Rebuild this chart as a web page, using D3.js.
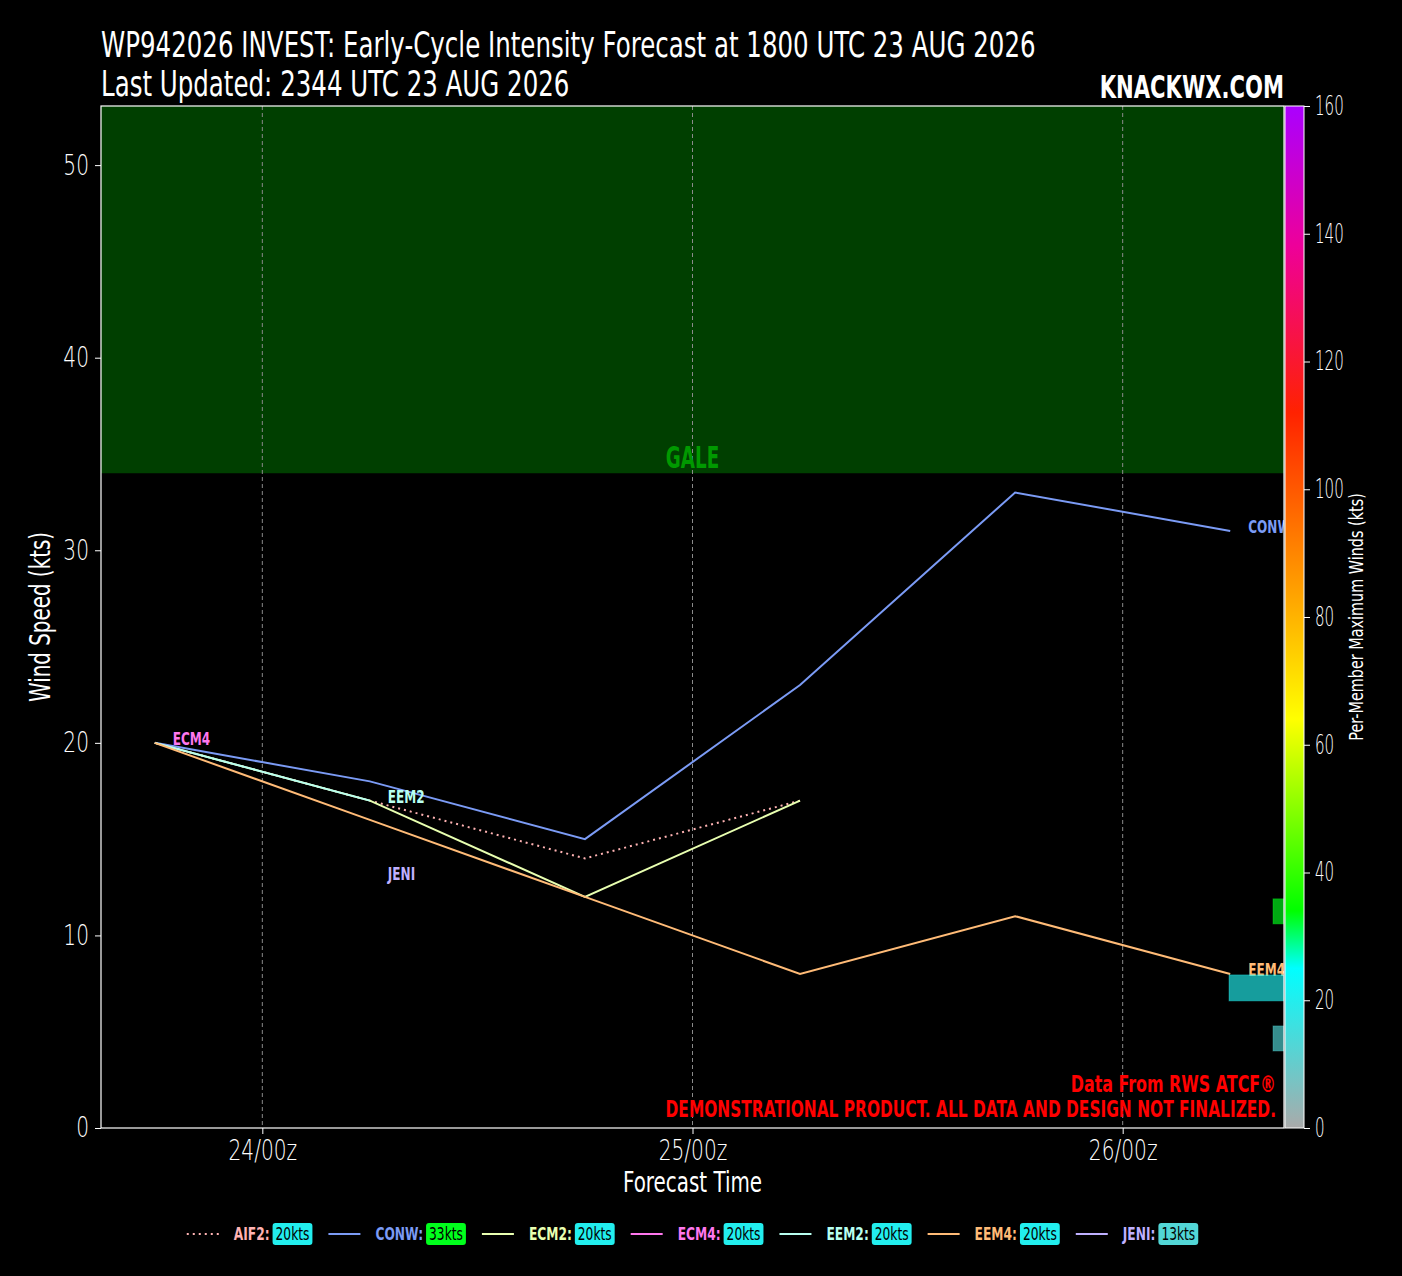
<!DOCTYPE html>
<html>
<head>
<meta charset="utf-8">
<script src="https://cdn.jsdelivr.net/npm/d3@7"></script>
<style>
  body { margin: 0; background: #000; }
  text { font-family: "DejaVu Sans", sans-serif; }
</style>
</head>
<body>
<div id="chart"></div>
<script>
// forecast times (12-hourly) and member intensities (kts)
const times = ["2026-08-23T18:00Z", "2026-08-24T06:00Z", "2026-08-24T18:00Z",
               "2026-08-25T06:00Z", "2026-08-25T18:00Z", "2026-08-26T06:00Z"];
const members = ["AIF2", "CONW", "ECM2", "ECM4", "EEM2", "EEM4", "JENI"];
const memberColors = ["#ffb3b3", "#7b9bf5", "#e8ffb0", "#ff77ee", "#b8fff0", "#ffbb77", "#bfb0ff"];
const AIF2 = [20, 17, 14, 17];
const CONW = [20, 18, 15, 23, 33, 31];
const ECM2 = [20, 17, 12, 17];
const ECM4 = [20];
const EEM2 = [20, 17];
const EEM4 = [20, 16, 12, 8, 11, 8];
const JENI = [null, 13];
const memberValues = [AIF2, CONW, ECM2, ECM4, EEM2, EEM4, JENI];
const dottedMembers = ["AIF2"];
const labelledMembers = ["CONW", "ECM4", "EEM2", "EEM4", "JENI"];

// end-of-period distribution bins (kts) at the right edge
const binLow = [10.6, 6.6, 4.0];
const binHigh = [11.9, 7.95, 5.3];
const binCount = [1, 5, 1];
const binMaxWind = [33, 20, 13];

// colour bar stops
const cbarStops = [0, 25, 34, 64, 82, 112, 138, 160];
const cbarColors = ["#aaaaaa", "#00ffff", "#00ff00", "#ffff00", "#ffaa00", "#ff2200", "#ee0099", "#aa00ff"];
const cbarTicks = [0, 20, 40, 60, 80, 100, 120, 140, 160];
const yTicks = [0, 10, 20, 30, 40, 50];
const galeThreshold = 34;

const W = 1402, H = 1276;
const margin = {top: 106, right: 118, bottom: 148, left: 101};
const parse = d3.utcParse("%Y-%m-%dT%H:%MZ");

// squeeze text horizontally to imitate the narrow font of the original
function condense(sel, k) {
    sel.each(function () {
        const w = this.getComputedTextLength();
        this.setAttribute("textLength", w * k);
        this.setAttribute("lengthAdjust", "spacingAndGlyphs");
    });
}

const svg = d3.select("#chart").append("svg")
    .attr("width", W).attr("height", H)
    .style("background", "#000");

const x = d3.scaleUtc()
    .domain([parse("2026-08-23T15:00Z"), parse("2026-08-26T09:00Z")])
    .range([margin.left, W - margin.right]);
const y = d3.scaleLinear()
    .domain([0, 53.07])
    .range([H - margin.bottom, margin.top]);
const cmap = d3.scaleLinear().domain(cbarStops).range(cbarColors).clamp(true);

// clip for plot area
svg.append("defs").append("clipPath").attr("id", "plotClip")
    .append("rect")
    .attr("x", x.range()[0]).attr("y", y.range()[1])
    .attr("width", x.range()[1] - x.range()[0])
    .attr("height", y.range()[0] - y.range()[1]);

const plot = svg.append("g").attr("clip-path", "url(#plotClip)");

// gale band
plot.append("rect")
    .attr("x", x.range()[0]).attr("width", x.range()[1] - x.range()[0])
    .attr("y", y.range()[1]).attr("height", y(galeThreshold) - y.range()[1])
    .attr("fill", "#003f00");

// vertical dashed grid
const xTicks = x.ticks(d3.utcDay.every(1));
plot.selectAll(".grid").data(xTicks).enter().append("line")
    .attr("x1", d => x(d)).attr("x2", d => x(d))
    .attr("y1", y.range()[1]).attr("y2", y.range()[0])
    .attr("stroke", "#8a8a8a").attr("stroke-width", 1)
    .attr("stroke-dasharray", "4,3");

plot.append("text")
    .attr("x", (x.range()[0] + x.range()[1]) / 2)
    .attr("y", y(galeThreshold) - 5)
    .attr("text-anchor", "middle")
    .attr("font-size", 30).attr("font-weight", "bold")
    .attr("fill", "#009900")
    .text("GALE")
    .call(condense, 0.61);

// member lines
const line = d3.line()
    .defined(d => d.v != null)
    .x(d => x(d.t)).y(d => y(d.v));

members.forEach((m, i) => {
    const pts = memberValues[i].map((v, j) => ({t: parse(times[j]), v: v}));
    plot.append("path")
        .datum(pts)
        .attr("d", line)
        .attr("fill", "none")
        .attr("stroke", memberColors[i])
        .attr("stroke-width", 2)
        .attr("stroke-dasharray", dottedMembers.includes(m) ? "2,4" : null);
});

// end labels
members.forEach((m, i) => {
    if (!labelledMembers.includes(m)) return;
    const vals = memberValues[i];
    let last = vals.length - 1;
    while (vals[last] == null) last--;
    plot.append("text")
        .attr("x", x(parse(times[last])) + 18)
        .attr("y", y(vals[last]) - 4)
        .attr("dy", "0.35em")
        .attr("font-size", 18).attr("font-weight", "bold")
        .attr("fill", memberColors[i])
        .text(m)
        .call(condense, 0.67);
});

// distribution bars at right edge
const barLen = d3.scaleLinear().domain([0, 1]).range([0, 11]);
plot.selectAll(".dist").data(binLow).enter().append("rect")
    .attr("x", (d, i) => x.range()[1] - barLen(binCount[i]))
    .attr("width", (d, i) => barLen(binCount[i]))
    .attr("y", (d, i) => y(binHigh[i]))
    .attr("height", (d, i) => y(binLow[i]) - y(binHigh[i]))
    .attr("fill", (d, i) => cmap(binMaxWind[i]))
    .attr("fill-opacity", 0.66)
    .attr("stroke", (d, i) => cmap(binMaxWind[i]))
    .attr("stroke-opacity", 0.35);

// watermark
const wm = svg.append("g").attr("fill", "#ff0000").attr("font-weight", "bold")
    .attr("text-anchor", "end").attr("font-size", 23);
wm.append("text").attr("x", 1276).attr("y", 1092).text("Data From RWS ATCF®").call(condense, 0.69);
wm.append("text").attr("x", 1276).attr("y", 1117)
    .text("DEMONSTRATIONAL PRODUCT. ALL DATA AND DESIGN NOT FINALIZED.").call(condense, 0.67);

// frame
svg.append("rect")
    .attr("x", x.range()[0]).attr("y", y.range()[1])
    .attr("width", x.range()[1] - x.range()[0])
    .attr("height", y.range()[0] - y.range()[1])
    .attr("fill", "none").attr("stroke", "#fff").attr("stroke-width", 1.2);

// axes
const xAxis = svg.append("g")
    .attr("transform", `translate(0,${y.range()[0]})`)
    .call(d3.axisBottom(x).tickValues(xTicks).tickFormat(d3.utcFormat("%d/%Hz")).tickSize(6).tickPadding(6));
const yAxis = svg.append("g")
    .attr("transform", `translate(${x.range()[0]},0)`)
    .call(d3.axisLeft(y).tickValues(yTicks).tickSize(6).tickPadding(6));
[xAxis, yAxis].forEach(g => {
    g.select(".domain").remove();
    g.selectAll("line").attr("stroke", "#fff");
    g.selectAll("text").attr("fill", "#fff").attr("font-size", 28).attr("font-weight", 200)
        .attr("font-family", "'DejaVu Sans', sans-serif")
        .call(condense, 0.72);
});

svg.append("text")
    .attr("x", (x.range()[0] + x.range()[1]) / 2).attr("y", 1192)
    .attr("text-anchor", "middle").attr("fill", "#fff").attr("font-size", 28)
    .text("Forecast Time").call(condense, 0.71);
svg.append("text")
    .attr("transform", `translate(50,${(y.range()[0] + y.range()[1]) / 2}) rotate(-90)`)
    .attr("text-anchor", "middle").attr("fill", "#fff").attr("font-size", 28)
    .text("Wind Speed (kts)").call(condense, 0.71);

// colour bar
const cbX = 1285, cbW = 19;
const cy = d3.scaleLinear().domain([0, 160]).range([y.range()[0], y.range()[1]]);
const grad = svg.select("defs").append("linearGradient")
    .attr("id", "cbarGrad").attr("x1", 0).attr("x2", 0).attr("y1", 1).attr("y2", 0);
grad.selectAll("stop").data(cbarStops).enter().append("stop")
    .attr("offset", d => d / 160)
    .attr("stop-color", (d, i) => cbarColors[i]);
svg.append("rect")
    .attr("x", cbX).attr("y", cy(160)).attr("width", cbW).attr("height", cy(0) - cy(160))
    .attr("fill", "url(#cbarGrad)").attr("stroke", "#fff").attr("stroke-width", 1);
const cAxis = svg.append("g")
    .attr("transform", `translate(${cbX + cbW},0)`)
    .call(d3.axisRight(cy).tickValues(cbarTicks).tickSize(6).tickPadding(5));
cAxis.select(".domain").remove();
cAxis.selectAll("line").attr("stroke", "#fff");
cAxis.selectAll("text").attr("fill", "#fff").attr("font-size", 26).attr("font-weight", 200)
    .attr("font-family", "'DejaVu Sans', sans-serif")
    .call(condense, 0.58);
svg.append("text")
    .attr("transform", `translate(1363,${(y.range()[0] + y.range()[1]) / 2}) rotate(-90)`)
    .attr("text-anchor", "middle").attr("fill", "#fff").attr("font-size", 20)
    .text("Per-Member Maximum Winds (kts)").call(condense, 0.72);

// titles
svg.append("text").attr("x", 101).attr("y", 57)
    .attr("fill", "#fff").attr("font-size", 35)
    .text("WP942026 INVEST: Early-Cycle Intensity Forecast at 1800 UTC 23 AUG 2026")
    .call(condense, 0.70);
svg.append("text").attr("x", 101).attr("y", 96)
    .attr("fill", "#fff").attr("font-size", 35)
    .text("Last Updated: 2344 UTC 23 AUG 2026")
    .call(condense, 0.70);
svg.append("text").attr("x", 1284).attr("y", 98)
    .attr("text-anchor", "end").attr("fill", "#fff").attr("font-size", 32).attr("font-weight", "bold")
    .text("KNACKWX.COM")
    .call(condense, 0.66);

// legend
const legend = svg.append("g");
let lx = 0;
const legendY = 1234;
const kLeg = 0.68;
members.forEach((m, i) => {
    const maxW = d3.max(memberValues[i]);
    const g = legend.append("g");
    g.append("line")
        .attr("x1", lx).attr("x2", lx + 32).attr("y1", legendY).attr("y2", legendY)
        .attr("stroke", memberColors[i]).attr("stroke-width", 2)
        .attr("stroke-dasharray", dottedMembers.includes(m) ? "2,4" : null);
    lx += 47;
    const lab = g.append("text").attr("x", lx).attr("y", legendY).attr("dy", "0.35em")
        .attr("font-size", 18).attr("font-weight", "bold").attr("fill", memberColors[i])
        .text(m + ":");
    const lw = lab.node().getComputedTextLength() * kLeg;
    lab.call(condense, kLeg);
    lx += lw + 3;
    const badge = g.append("rect").attr("y", legendY - 11).attr("height", 22).attr("rx", 3)
        .attr("fill", cmap(maxW));
    const bt = g.append("text").attr("x", lx + 3).attr("y", legendY).attr("dy", "0.35em")
        .attr("font-size", 18).attr("fill", "#000")
        .text(maxW + "kts");
    const btw = bt.node().getComputedTextLength() * kLeg;
    bt.call(condense, kLeg);
    const bw = btw + 6;
    badge.attr("x", lx).attr("width", bw);
    lx += bw + 16;
});
legend.attr("transform", `translate(${(x.range()[0] + x.range()[1]) / 2 - (lx - 16) / 2},0)`);
</script>
</body>
</html>
